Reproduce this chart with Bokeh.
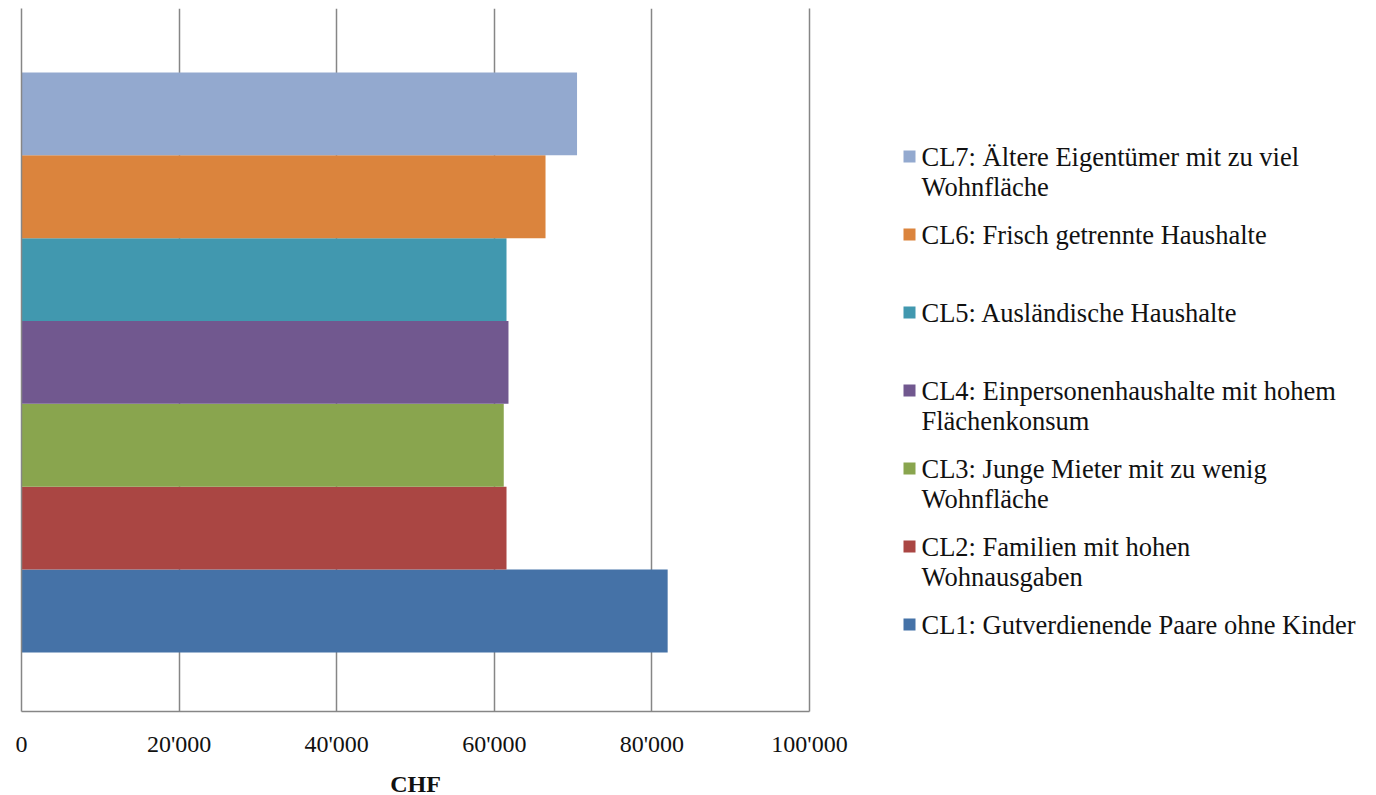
from bokeh.plotting import figure
from bokeh.models import Range1d, FixedTicker, CustomJSTickFormatter, ColumnDataSource, LinearAxis
from bokeh.layouts import row
from bokeh.core.properties import value
from bokeh.embed import file_html
from bokeh.resources import INLINE

# ---- data ----
labels = [
    "CL1: Gutverdienende Paare ohne Kinder",
    "CL2: Familien mit hohen\nWohnausgaben",
    "CL3: Junge Mieter mit zu wenig\nWohnfläche",
    "CL4: Einpersonenhaushalte mit hohem\nFlächenkonsum",
    "CL5: Ausländische Haushalte",
    "CL6: Frisch getrennte Haushalte",
    "CL7: Ältere Eigentümer mit zu viel\nWohnfläche",
]
values = [82000, 61550, 61200, 61800, 61550, 66500, 70500]
colors = ["#4572A7", "#AA4643", "#89A54E", "#71588F", "#4198AF", "#DB843D", "#93A9CF"]
ticks = [0, 20000, 40000, 60000, 80000, 100000]
x_label = "CHF"

FONT = "Liberation Serif"
GRID = "#868686"
H = 795

n = len(values)
pos = list(range(1, n + 1))
src = ColumnDataSource(dict(y=pos, right=values, color=colors, label=labels))

p = figure(
    width=868, height=H,
    frame_width=788, frame_height=703,
    x_range=Range1d(0, 100000), y_range=Range1d(-0.213, 8.272),
    output_backend="svg", toolbar_location=None,
    y_axis_location=None,
    min_border_left=21, min_border_top=8, min_border_right=59, min_border_bottom=10,
)
p.outline_line_color = None
p.background_fill_color = "white"
p.hbar(y="y", left=0, right="right", height=1.0, color="color", line_color=None, source=src)

# frame edge lines (0 and 100'000) drawn as bare axes without ticks
for side in ("left", "right"):
    ax = LinearAxis(ticker=FixedTicker(ticks=[]), major_tick_line_color=None,
                    minor_tick_line_color=None, axis_line_color=GRID, axis_line_width=1.5,
                    major_label_standoff=0)
    p.add_layout(ax, side)

p.ygrid.visible = False
p.xgrid.ticker = FixedTicker(ticks=ticks)
p.xgrid.grid_line_color = GRID
p.xgrid.grid_line_width = 1.5
xa = p.below[0]
xa.ticker = FixedTicker(ticks=ticks)
xa.formatter = CustomJSTickFormatter(
    code="return tick.toFixed(0).replace(/\\B(?=(\\d{3})+(?!\\d))/g, \"'\");")
xa.axis_line_color = GRID
xa.axis_line_width = 1.5
xa.major_tick_line_color = None
xa.minor_tick_line_color = None
xa.major_label_standoff = 13
xa.major_label_text_font = FONT
xa.major_label_text_font_size = "24px"
xa.major_label_text_color = "#111111"
xa.axis_label = x_label
xa.axis_label_standoff = 11
xa.axis_label_text_font = FONT
xa.axis_label_text_font_size = "24px"
xa.axis_label_text_font_style = "bold"
xa.axis_label_text_color = "#111111"

# ---- legend panel (drawn manually, CL7 on top) ----
LW = 500
first_line_center = 148
spacing = 78
font_px = 26.5
lf = figure(
    width=LW, height=H, frame_width=LW, frame_height=H,
    x_range=Range1d(0, LW), y_range=Range1d(H, 0),
    output_backend="svg", toolbar_location=None,
    x_axis_location=None, y_axis_location=None,
    min_border=0, title=None,
)
lf.outline_line_color = None
lf.grid.visible = False
rank = [n - 1 - i for i in range(n)]
centers = [first_line_center + r * spacing for r in rank]
tops = [c - 15 for c in centers]
lsrc = ColumnDataSource(dict(c=centers, t=tops, color=colors, label=labels))
lf.scatter(x=41, y="c", marker="square", size=12, color="color", line_color=None, source=lsrc)
lf.text(x=53, y="t", text="label", source=lsrc, text_baseline="top", text_align="left",
        text_font=value(FONT), text_font_size=f"{font_px}px", text_line_height=1.0,
        text_color="#111111")

layout = row(p, lf)
open("out.html", "w").write(file_html(layout, INLINE))
